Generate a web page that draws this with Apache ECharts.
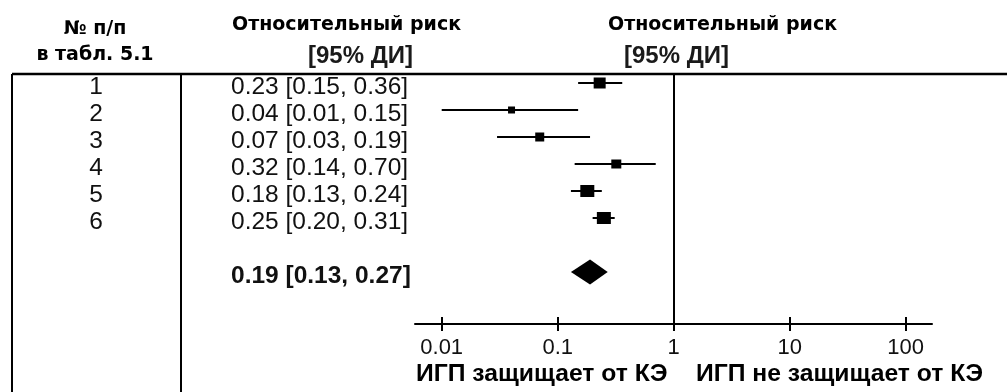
<!DOCTYPE html>
<html>
<head>
<meta charset="utf-8">
<script src="https://cdn.jsdelivr.net/npm/echarts@6/dist/echarts.min.js"></script>
<style>
  html, body { margin: 0; padding: 0; background: #ffffff; }
  #chart { width: 1007px; height: 392px; }
</style>
</head>
<body>
<div id="chart"></div>
<script>
// Studies from table 5.1: relative risk with 95% confidence interval
const studyNumbers = ['1', '2', '3', '4', '5', '6'];
const riskRatio = [0.23, 0.04, 0.07, 0.32, 0.18, 0.25];
const ciLower = [0.15, 0.01, 0.03, 0.14, 0.13, 0.20];
const ciUpper = [0.36, 0.15, 0.19, 0.70, 0.24, 0.31];

// Pooled estimate
const pooledRisk = 0.19;
const pooledLower = 0.13;
const pooledUpper = 0.27;

// Log axis ticks
const tickValues = [0.01, 0.1, 1, 10, 100];
const tickLabels = ['0.01', '0.1', '1', '10', '100'];

// Header and footer texts
const headerNumber = ['№ п/п', 'в табл. 5.1'];
const headerRisk = ['Относительный риск', '[95% ДИ]'];
const favourLabels = ['ИГП защищает от КЭ', 'ИГП не защищает от КЭ'];

// ---- layout ----
const W = 1007, H = 392;
const TABLE_TOP = 74;
const AXIS_Y = 324;
const AXIS_LEFT = 415, AXIS_RIGHT = 932;
const FIRST_TICK_X = 441.7, DECADE_PX = 116;
const ROW_STEP = 27, FIRST_ROW_Y = 83;
const POOLED_ROW = 7;               // one empty row before the pooled line
const TEXT_SHIFT = 4.5;             // text sits a little lower than the marks
const BOX_SIZES = [[12, 11], [7, 7], [9, 9], [10, 9], [14, 12], [14, 12]];
const DIAMOND_HALF_H = 12.5;

const gridHeight = AXIS_Y - TABLE_TOP;
const yMin = -(FIRST_ROW_Y - TABLE_TOP) / ROW_STEP;
const yMax = yMin + gridHeight / ROW_STEP;
const xMin = tickValues[0] * Math.pow(10, -(FIRST_TICK_X - AXIS_LEFT) / DECADE_PX);
const lastTickX = FIRST_TICK_X + DECADE_PX * (tickValues.length - 1);
const xMax = tickValues[tickValues.length - 1] * Math.pow(10, (AXIS_RIGHT - lastTickX) / DECADE_PX);

const fmt = v => v.toFixed(2);
const ciText = (r, lo, hi) => fmt(r) + ' [' + fmt(lo) + ', ' + fmt(hi) + ']';

const FONT_DATA = '24.5px "Liberation Sans", Arial, sans-serif';
const FONT_DATA_BOLD = 'bold 24.5px "Liberation Sans", Arial, sans-serif';
const FONT_FOOT = 'bold 24.7px "Liberation Sans", Arial, sans-serif';
const FONT_HEAD = 'bold 19px "DejaVu Sans", Verdana, sans-serif';
const FONT_HEAD_CI = 'bold 24px "Liberation Sans", Arial, sans-serif';

const chart = echarts.init(document.getElementById('chart'), null, { renderer: 'canvas' });

const rowData = studyNumbers.map((n, i) => [riskRatio[i], i]);
const ciData = studyNumbers.map((n, i) => [ciLower[i], ciUpper[i], i]);
const textRows = studyNumbers.map((n, i) => ({
  value: [riskRatio[i], i], num: n, text: ciText(riskRatio[i], ciLower[i], ciUpper[i]), bold: false
}));
textRows.push({
  value: [pooledRisk, POOLED_ROW], num: '', text: ciText(pooledRisk, pooledLower, pooledUpper), bold: true
});

const tickLabelFor = v => {
  let best = 0;
  tickValues.forEach((t, k) => {
    if (Math.abs(Math.log10(t) - Math.log10(v)) < Math.abs(Math.log10(tickValues[best]) - Math.log10(v))) best = k;
  });
  return tickLabels[best];
};

const option = {
  backgroundColor: '#ffffff',
  animation: false,
  grid: {
    left: AXIS_LEFT, right: W - AXIS_RIGHT, top: TABLE_TOP, bottom: H - AXIS_Y,
    outerBoundsMode: 'none', containLabel: false
  },
  xAxis: [{
    type: 'log', logBase: 10, min: xMin, max: xMax, position: 'bottom',
    axisLine: { show: true, onZero: false, lineStyle: { color: '#000', width: 2 } },
    axisTick: { show: true, inside: false, length: 7, customValues: tickValues, lineStyle: { color: '#000', width: 2 } },
    axisLabel: {
      show: true, margin: 13, customValues: tickValues, color: '#111',
      fontFamily: '"Liberation Sans", Arial, sans-serif', fontSize: 22,
      formatter: v => tickLabelFor(v)
    },
    splitLine: { show: false }, minorTick: { show: false }
  }, {
    type: 'log', logBase: 10, min: xMin, max: xMax, position: 'bottom',
    axisLine: { show: false, onZero: false },
    axisTick: { show: true, inside: true, length: 7, customValues: tickValues, lineStyle: { color: '#000', width: 2 } },
    axisLabel: { show: false },
    splitLine: { show: false }
  }],
  yAxis: {
    type: 'value', inverse: true, min: yMin, max: yMax, show: false, splitLine: { show: false }
  },
  series: [
    {
      // confidence intervals
      type: 'custom', coordinateSystem: 'cartesian2d', clip: false, silent: true,
      data: ciData,
      renderItem: (params, api) => {
        const a = api.coord([api.value(0), api.value(2)]);
        const b = api.coord([api.value(1), api.value(2)]);
        return {
          type: 'line',
          shape: { x1: a[0], y1: a[1], x2: b[0], y2: b[1] },
          style: { stroke: '#000', lineWidth: 2 }
        };
      },
      z: 2
    },
    {
      // point estimates
      type: 'scatter', symbol: 'rect', silent: true,
      data: rowData.map((d, i) => ({ value: d, symbolSize: BOX_SIZES[i] })),
      itemStyle: { color: '#000', opacity: 1 },
      z: 3,
      markLine: {
        silent: true, symbol: 'none', animation: false,
        label: { show: false },
        lineStyle: { color: '#000', width: 2, type: 'solid' },
        data: [{ xAxis: 1 }]
      }
    },
    {
      // pooled estimate diamond
      type: 'custom', coordinateSystem: 'cartesian2d', clip: false, silent: true,
      data: [[pooledRisk, POOLED_ROW, pooledLower, pooledUpper]],
      renderItem: (params, api) => {
        const row = api.value(1);
        const c = api.coord([api.value(0), row]);
        const l = api.coord([api.value(2), row]);
        const r = api.coord([api.value(3), row]);
        return {
          type: 'polygon',
          shape: { points: [[l[0], c[1]], [c[0], c[1] - DIAMOND_HALF_H], [r[0], c[1]], [c[0], c[1] + DIAMOND_HALF_H]] },
          style: { fill: '#000' }
        };
      },
      z: 3
    },
    {
      // table text: study number and relative risk [95% CI]
      type: 'custom', coordinateSystem: 'cartesian2d', clip: false, silent: true,
      data: textRows,
      renderItem: (params, api) => {
        const item = textRows[params.dataIndex];
        const y = api.coord([api.value(0), api.value(1)])[1] + TEXT_SHIFT;
        return {
          type: 'group',
          children: [{
            type: 'text', x: 96, y: y,
            style: { text: item.num, font: FONT_DATA, fill: '#111', align: 'center', verticalAlign: 'middle' }
          }, {
            type: 'text', x: 231, y: y,
            style: { text: item.text, font: item.bold ? FONT_DATA_BOLD : FONT_DATA, fill: '#111', align: 'left', verticalAlign: 'middle' }
          }]
        };
      },
      z: 4
    }
  ],
  graphic: [
    // table frame
    { type: 'line', silent: true, shape: { x1: 12, y1: TABLE_TOP, x2: W, y2: TABLE_TOP }, style: { stroke: '#000', lineWidth: 2.5 } },
    { type: 'line', silent: true, shape: { x1: 12, y1: TABLE_TOP, x2: 12, y2: H }, style: { stroke: '#000', lineWidth: 2 } },
    { type: 'line', silent: true, shape: { x1: 181, y1: TABLE_TOP, x2: 181, y2: H }, style: { stroke: '#000', lineWidth: 2 } },
    // headers
    { type: 'text', silent: true, x: 95, y: 29, style: { text: headerNumber[0], font: FONT_HEAD, fill: '#000', align: 'center', verticalAlign: 'middle' } },
    { type: 'text', silent: true, x: 95, y: 55, style: { text: headerNumber[1], font: FONT_HEAD, fill: '#000', align: 'center', verticalAlign: 'middle' } },
    { type: 'text', silent: true, x: 232, y: 25, style: { text: headerRisk[0], font: FONT_HEAD, fill: '#000', align: 'left', verticalAlign: 'middle' } },
    { type: 'text', silent: true, x: 308, y: 56, style: { text: headerRisk[1], font: FONT_HEAD_CI, fill: '#1a1a1a', align: 'left', verticalAlign: 'middle' } },
    { type: 'text', silent: true, x: 608, y: 25, style: { text: headerRisk[0], font: FONT_HEAD, fill: '#000', align: 'left', verticalAlign: 'middle' } },
    { type: 'text', silent: true, x: 624, y: 56, style: { text: headerRisk[1], font: FONT_HEAD_CI, fill: '#1a1a1a', align: 'left', verticalAlign: 'middle' } },
    // direction labels under the axis
    { type: 'text', silent: true, x: 416, y: 374, style: { text: favourLabels[0], font: FONT_FOOT, fill: '#000', align: 'left', verticalAlign: 'middle' } },
    { type: 'text', silent: true, x: 696, y: 374, style: { text: favourLabels[1], font: FONT_FOOT, fill: '#000', align: 'left', verticalAlign: 'middle' } }
  ]
};

chart.setOption(option);
</script>
</body>
</html>
